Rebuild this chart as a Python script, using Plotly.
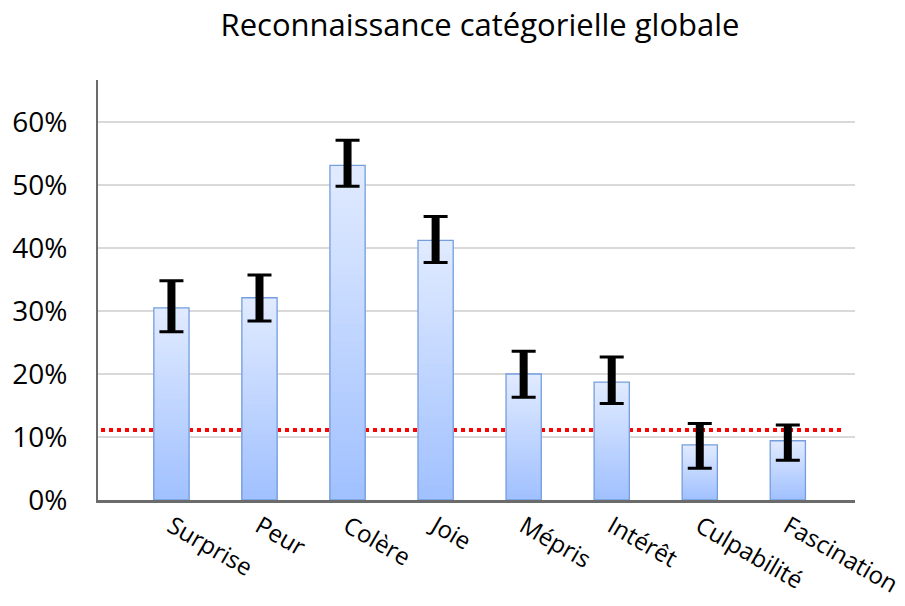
import plotly.graph_objects as go

# Recognition rate per emotion category (percent) with asymmetric error bars
categories = ["Surprise", "Peur", "Colère", "Joie", "Mépris", "Intérêt", "Culpabilité", "Fascination"]
recognition = [30.5, 32.1, 53.1, 41.2, 20.0, 18.7, 8.75, 9.4]
err_plus = [4.3, 3.6, 4.0, 3.8, 3.6, 4.0, 3.4, 2.5]
err_minus = [3.8, 3.7, 3.3, 3.5, 3.7, 3.4, 3.7, 3.1]
chance_level = 11.1
y_ticks = [0, 10, 20, 30, 40, 50, 60]
y_tick_labels = ["0%", "10%", "20%", "30%", "40%", "50%", "60%"]

FONT = "Open Sans"
BAR_W = 0.40
N_SLICES = 40
BOTTOM_RGB = (160, 192, 255)
TOP_RGB = (225, 235, 255)

fig = go.Figure()

# Vertical gradient inside each bar: nested bars from the axis, tallest (lightest) first,
# each shorter one drawn over it so only a thin band of each colour stays visible
for k in reversed(range(N_SLICES)):
    t = (k + 0.5) / N_SLICES
    rgb = tuple(round(b + (tp - b) * t) for b, tp in zip(BOTTOM_RGB, TOP_RGB))
    fig.add_trace(go.Bar(
        x=categories,
        y=[v * (k + 1) / N_SLICES for v in recognition],
        width=BAR_W,
        marker=dict(color="rgb(%d,%d,%d)" % rgb, line=dict(width=0)),
        showlegend=False,
        hoverinfo="skip",
    ))

# Bar outline carrying the error-bar caps
fig.add_trace(go.Bar(
    x=categories,
    y=recognition,
    width=BAR_W,
    marker=dict(color="rgba(0,0,0,0)", line=dict(color="rgb(118,158,222)", width=1.3)),
    error_y=dict(type="data", symmetric=False, array=err_plus, arrayminus=err_minus,
                 color="black", thickness=3, width=12),
    showlegend=False,
))

# Thick stems of the error bars
stem_x, stem_y = [], []
for c, v, p, m in zip(categories, recognition, err_plus, err_minus):
    stem_x += [c, c, None]
    stem_y += [v - m, v + p, None]
fig.add_trace(go.Scatter(
    x=stem_x, y=stem_y, mode="lines",
    line=dict(color="black", width=8),
    showlegend=False, hoverinfo="skip",
))

# Chance level reference line
fig.add_shape(type="line", xref="paper", yref="y",
              x0=0.004, x1=0.983, y0=chance_level, y1=chance_level,
              line=dict(color="red", width=4, dash="4px,4px"), layer="below")

fig.update_layout(
    width=905, height=606,
    margin=dict(l=98, r=50, t=80, b=105.5, autoexpand=False),
    barmode="overlay",
    plot_bgcolor="white", paper_bgcolor="white",
    font=dict(family=FONT, color="black"),
    title=dict(text="Reconnaissance catégorielle globale",
               font=dict(family=FONT, size=31, color="black"),
               x=480 / 905, xanchor="center",
               yref="container", y=1 - 25 / 606, yanchor="middle"),
    xaxis=dict(
        range=[-0.834, 7.763],
        automargin=False,
        showline=True, linecolor="#6b6b6b", linewidth=3,
        showgrid=False, ticks="", tickangle=30,
        tickfont=dict(family=FONT, size=24, color="black"),
        ticklabelstandoff=0,
    ),
    yaxis=dict(
        range=[0, 66.66],
        automargin=False,
        tickmode="array", tickvals=y_ticks, ticktext=y_tick_labels,
        showline=True, linecolor="#6b6b6b", linewidth=2,
        showgrid=True, gridcolor="#d9d9d9", gridwidth=2,
        zeroline=False, ticks="",
        tickfont=dict(family=FONT, size=28, color="black"),
        ticklabelstandoff=23,
    ),
)

fig.write_html("out.html")
